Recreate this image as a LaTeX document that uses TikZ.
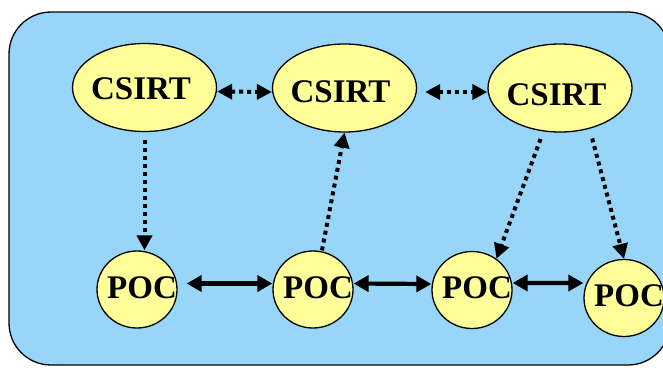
\documentclass[tikz,border=0pt]{standalone}
\usepackage{fontspec}
\setmainfont{Liberation Serif}
\usetikzlibrary{shapes.geometric,arrows.meta}
\definecolor{bgblue}{RGB}{151,213,249}
\definecolor{nodeyellow}{RGB}{255,255,153}
\newcommand{\placetext}[3]{\makebox[0pt]{\raisebox{#2}[10bp][10bp]{\hspace*{#1}#3}}}
\tikzset{
  csirt/.style={ellipse, draw=black, line width=1.3bp, fill=nodeyellow, inner sep=0pt,
    minimum width=144bp, minimum height=88bp, font=\fontsize{33bp}{36bp}\selectfont\bfseries},
  poc/.style={ellipse, draw=black, line width=1.3bp, fill=nodeyellow, inner sep=0pt,
    minimum width=80bp, minimum height=77bp, font=\fontsize{33bp}{36bp}\selectfont\bfseries},
  dotlink/.style={line width=4bp, dash pattern=on 4bp off 4bp, -{Triangle[length=15bp,width=15bp]}},
  dotboth/.style={line width=4bp, dash pattern=on 4bp off 4bp, {Triangle[length=15bp,width=15bp]}-{Triangle[length=15bp,width=15bp]}},
  solidboth/.style={line width=4.2bp, {Triangle[length=15bp,width=16bp]}-{Triangle[length=15bp,width=16bp]}},
}
\begin{document}
\begin{tikzpicture}[x=1bp,y=-1bp]
\useasboundingbox (0,0) rectangle (663,367);
\clip (0,0) rectangle (663,367);
\draw[fill=bgblue, line width=1.3bp, rounded corners=42bp] (9,12) rectangle (670,365);

\node[csirt] (c1) at (144.5,87.5) {\placetext{-7bp}{-12bp}{CSIRT}};
\node[csirt] (c2) at (344.5,88) {\placetext{-8bp}{-14bp}{CSIRT}};
\node[csirt] (c3) at (560,88) {\placetext{-7bp}{-17.5bp}{CSIRT}};

\node[poc] (p1) at (137,289.5) {\placetext{10bp}{-8.5bp}{POC}};
\node[poc] (p2) at (313,289.5) {\placetext{10bp}{-8.5bp}{POC}};
\node[poc] (p3) at (472,290) {\placetext{10bp}{-8.5bp}{POC}};
\node[poc] (p4) at (624,298) {\placetext{10bp}{-8bp}{POC}};

\draw[dotboth] ([yshift=-4bp]c1.east) -- ([yshift=-4bp]c2.west);
\draw[dotboth, shorten <=8bp] ([yshift=-4bp]c2.east) -- ([yshift=-4bp]c3.west);

\draw[dotlink, shorten <=8bp] (c1.south) -- (c1.south |- p1.north);
\draw[dotlink] ([xshift=9bp]p2.north) -- (c2.south);
\draw[dotlink, shorten <=8bp] (c3.249) -- (p3.52);
\draw[dotlink, shorten <=10bp] (c3.306) -- (p4.north);

\draw[solidboth, shorten <=9bp] ([yshift=6bp]p1.east) -- ([yshift=6bp]p2.west);
\draw[solidboth] ([yshift=6bp]p2.east) -- ([yshift=6bp]p3.west);
\draw[solidboth] ([yshift=7bp]p3.east) -- ([yshift=15bp]p4.west);
\end{tikzpicture}
\end{document}
